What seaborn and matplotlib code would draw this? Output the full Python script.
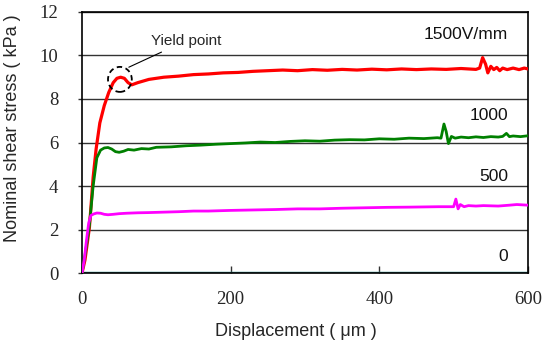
import numpy as np
import pandas as pd
import matplotlib
matplotlib.use("Agg")
import matplotlib.pyplot as plt
from matplotlib.patches import Ellipse
from matplotlib import font_manager
import seaborn as sns

# ---- data ----
x_1500 = [0, 4, 10, 15, 19, 24, 30, 36, 42, 47, 52, 57, 62, 67, 75, 90, 110, 130, 150, 170,
          190, 210, 230, 250, 270, 290, 310, 330, 350, 370, 390, 410, 430, 450, 470, 490,
          510, 530, 535, 539, 543, 546, 550, 554, 558, 562, 566, 572, 580, 588, 595, 600]
y_1500 = [0, 0.6, 2.1, 4.4, 5.7, 6.9, 7.7, 8.3, 8.75, 8.95, 9.0, 8.95, 8.75, 8.65, 8.75, 8.9,
          9.0, 9.05, 9.12, 9.15, 9.2, 9.22, 9.27, 9.3, 9.33, 9.3, 9.35, 9.32, 9.36, 9.33,
          9.37, 9.34, 9.38, 9.35, 9.38, 9.36, 9.4, 9.36, 9.42, 9.9, 9.6, 9.2, 9.5, 9.35,
          9.45, 9.3, 9.42, 9.35, 9.42, 9.35, 9.42, 9.38]

x_1000 = [0, 4, 10, 15, 20, 25, 30, 35, 40, 45, 50, 56, 62, 70, 80, 90, 100, 120, 140, 160,
          180, 200, 220, 240, 260, 280, 300, 320, 340, 360, 380, 400, 420, 440, 460, 478,
          483, 487, 490, 493, 497, 502, 510, 520, 530, 540, 550, 560, 566, 571, 575, 580,
          590, 600]
y_1000 = [0, 0.8, 2.2, 4.0, 5.3, 5.65, 5.75, 5.77, 5.7, 5.58, 5.55, 5.6, 5.68, 5.65, 5.72,
          5.7, 5.78, 5.8, 5.85, 5.88, 5.92, 5.95, 5.98, 6.02, 6.0, 6.05, 6.08, 6.06, 6.11,
          6.13, 6.12, 6.17, 6.15, 6.2, 6.18, 6.22, 6.2, 6.85, 6.5, 5.95, 6.28, 6.2, 6.25,
          6.22, 6.26, 6.23, 6.27, 6.25, 6.28, 6.42, 6.27, 6.3, 6.27, 6.31]

x_500 = [0, 3, 6, 9, 12, 16, 20, 25, 30, 35, 42, 50, 60, 75, 90, 110, 130, 150, 170, 200,
         230, 260, 290, 320, 350, 380, 410, 440, 480, 500, 503, 506, 509, 514, 520, 530,
         540, 560, 575, 585, 600]
y_500 = [0, 0.6, 1.5, 2.3, 2.65, 2.72, 2.76, 2.75, 2.7, 2.68, 2.7, 2.73, 2.75, 2.77, 2.78,
         2.8, 2.82, 2.85, 2.85, 2.88, 2.9, 2.92, 2.95, 2.95, 2.98, 3.0, 3.02, 3.03, 3.05,
         3.05, 3.4, 2.95, 3.15, 3.05, 3.1, 3.08, 3.1, 3.08, 3.12, 3.15, 3.12]

x_0 = [0, 100, 200, 300, 400, 500, 600]
y_0 = [0.02, 0.02, 0.02, 0.02, 0.02, 0.02, 0.02]

series_names = ["1500", "1000", "500", "0"]
series_colors = ["#ff0000", "#008000", "#ff00ff", "#2f8f8f"]
curve_labels = ["1500V/mm", "1000", "500", "0"]
label_y = [10.98, 7.24, 4.43, 0.74]

x_ticks = [0, 200, 400, 600]
y_ticks = [0, 2, 4, 6, 8, 10, 12]

frames = []
for name, xs, ys in zip(series_names, [x_1500, x_1000, x_500, x_0],
                        [y_1500, y_1000, y_500, y_0]):
    frames.append(pd.DataFrame({"disp": xs, "stress": ys, "series": name}))
df = pd.concat(frames, ignore_index=True)

sns.set_style("white")
plt.rcParams["font.family"] = ["Liberation Sans", "DejaVu Sans"]

# locate a Times-like serif font file for the tick labels
serif_file = None
for f in font_manager.findSystemFonts():
    base = f.replace("\\", "/").split("/")[-1].lower()
    if base.startswith("liberationserif-regular"):
        serif_file = f
        break
if serif_file is None:
    for f in font_manager.fontManager.ttflist:
        if "Serif" in f.name and f.style == "normal" and f.weight in (400, "normal"):
            serif_file = f.fname
            break
tick_fp = (font_manager.FontProperties(fname=serif_file, size=13.5)
           if serif_file else font_manager.FontProperties(family="serif", size=13.5))

fig = plt.figure(figsize=(5.54, 3.51), dpi=100)
ax = fig.add_axes([0.148, 0.222, 0.805, 0.744])

sns.lineplot(data=df, x="disp", y="stress", hue="series", hue_order=series_names,
             palette=dict(zip(series_names, series_colors)), sort=False,
             linewidth=2.0, legend=False, ax=ax, zorder=3)
ax.lines[0].set_linewidth(2.3)
ax.lines[3].set_linewidth(2.5)
ax.lines[3].set_zorder(1)

ax.set_xlim(0, 600)
ax.set_ylim(0, 12)
ax.set_xticks(x_ticks, labels=[str(v) for v in x_ticks], fontproperties=tick_fp)
ax.set_yticks(y_ticks, labels=[str(v) for v in y_ticks], fontproperties=tick_fp)
ax.yaxis.grid(True, color="#333333", linewidth=1.0, zorder=0)
ax.xaxis.grid(False)
for s in ax.spines.values():
    s.set_color("black")
    s.set_linewidth(1.2)
ax.tick_params(axis="x", direction="in", length=5, width=1, color="#333333",
               pad=13, bottom=True)
ax.tick_params(axis="y", direction="out", length=3, width=1, color="#333333",
               pad=14, left=True)

ax.set_xlabel("Displacement ( μm )", fontsize=13)
ax.set_ylabel("Nominal shear stress ( kPa )", fontsize=13)
ax.xaxis.set_label_coords(0.48, -0.19)
ax.yaxis.set_label_coords(-0.137, 0.555)

for lab, ly in zip(curve_labels, label_y):
    ax.text(573, ly, lab, ha="right", va="center", fontsize=12.5, color="#111111")

ax.add_patch(Ellipse((51, 8.9), 32, 1.15, fill=False, linestyle=(0, (3, 2)),
                     linewidth=1.3, edgecolor="black", zorder=4))
ax.annotate("Yield point", xy=(63, 9.46), xytext=(93, 10.68), fontsize=11,
            ha="left", va="center",
            arrowprops=dict(arrowstyle="-", color="black", linewidth=0.8,
                            shrinkA=2, shrinkB=0))

fig.savefig("out.png", dpi=100)
